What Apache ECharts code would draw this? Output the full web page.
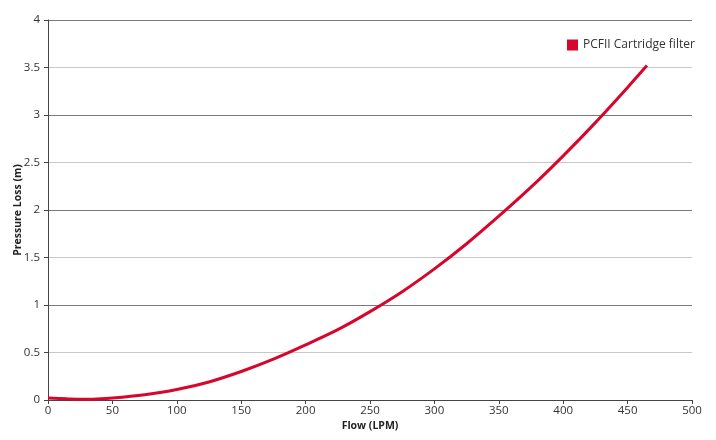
<!DOCTYPE html>
<html>
<head>
<meta charset="utf-8">
<script src="https://cdn.jsdelivr.net/npm/echarts@6/dist/echarts.min.js"></script>
<style>html,body{margin:0;padding:0;background:#fff}#c{width:716px;height:440px}</style>
</head>
<body>
<div id="c"></div>
<script>
const seriesName = 'PCFII Cartridge filter';
const flow = [0, 15, 25, 35, 50, 75, 100, 125, 150, 175, 200, 225, 250, 275, 300, 325, 350, 375, 400, 425, 450, 465];
const pressureLoss = [0.02, 0.012, 0.008, 0.008, 0.02, 0.055, 0.11, 0.19, 0.30, 0.43, 0.58, 0.74, 0.93, 1.14, 1.38, 1.645, 1.935, 2.24, 2.57, 2.92, 3.29, 3.52];
const xName = 'Flow (LPM)';
const yName = 'Pressure Loss (m)';

const chart = echarts.init(document.getElementById('c'), null, {renderer: 'canvas'});
const font = '"Open Sans", "Noto Sans", sans-serif';
chart.setOption({
  animation: false,
  backgroundColor: '#fff',
  textStyle: {fontFamily: font},
  grid: {left: 48, right: 24, top: 20, bottom: 40, containLabel: false, outerBoundsMode: 'none'},
  legend: {
    left: 562, top: 34,
    icon: 'rect', itemWidth: 11, itemHeight: 11, itemGap: 5,
    textStyle: {fontFamily: font, fontSize: 12, color: '#333'},
    data: [seriesName]
  },
  xAxis: {
    type: 'value', min: 0, max: 500, interval: 50,
    name: xName, nameLocation: 'middle', nameGap: 21, nameMoveOverlap: false,
    nameTextStyle: {fontFamily: font, fontSize: 10.5, fontWeight: 'bold', color: '#222'},
    axisLine: {show: true, lineStyle: {color: '#444', width: 1}},
    axisTick: {show: true, length: 4, lineStyle: {color: '#444'}},
    axisLabel: {fontFamily: font, fontSize: 11.5, color: '#333', margin: 5},
    splitLine: {show: false}
  },
  yAxis: {
    type: 'value', min: 0, max: 4, interval: 0.5,
    name: yName, nameLocation: 'middle', nameGap: 24, nameRotate: 90, nameMoveOverlap: false,
    nameTextStyle: {fontFamily: font, fontSize: 10.5, fontWeight: 'bold', color: '#222'},
    axisLine: {show: true, lineStyle: {color: '#444', width: 1}},
    axisTick: {show: true, length: 4, lineStyle: {color: '#444'}},
    axisLabel: {fontFamily: font, fontSize: 11.5, color: '#333', margin: 8},
    splitLine: {show: true, lineStyle: {color: ['#7a7a7a', '#c8c8c8'], width: 1}}
  },
  series: [{
    name: seriesName,
    type: 'line',
    smooth: 0.3,
    showSymbol: false,
    itemStyle: {color: '#d6062c'},
    lineStyle: {color: '#d6062c', width: 3},
    data: flow.map((f, i) => [f, pressureLoss[i]])
  }]
});
</script>
</body>
</html>
